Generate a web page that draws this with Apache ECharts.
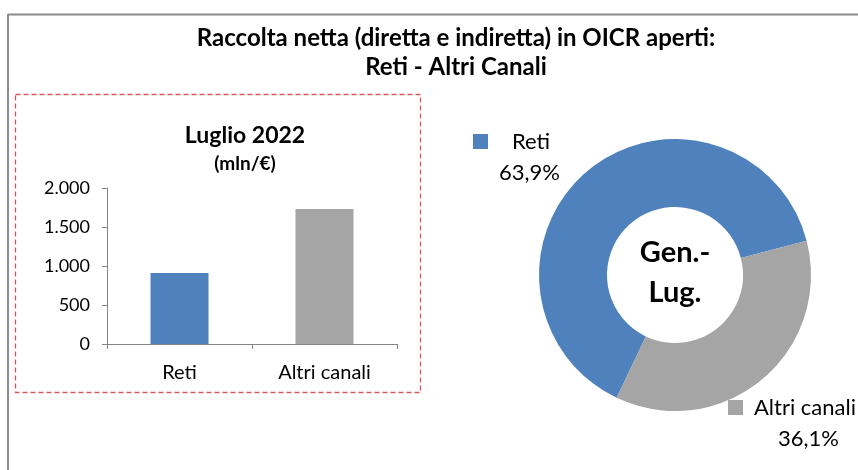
<!DOCTYPE html>
<html>
<head>
<meta charset="utf-8">
<script src="https://cdn.jsdelivr.net/npm/echarts@6/dist/echarts.min.js"></script>
<style>
  html, body { margin: 0; padding: 0; background: #fff; }
  #chart { width: 858px; height: 470px; }
</style>
</head>
<body>
<div id="chart"></div>
<script>
// ── 数据 ──
const barCategories = ['Reti', 'Altri canali'];
const barValues = [910, 1731];          // mln/€, luglio 2022
const pieNames = ['Reti', 'Altri canali'];
const pieValues = [63.9, 36.1];         // % gen.-lug.
const pieLabels = ['63,9%', '36,1%'];
const colors = ['#4F81BD', '#A5A5A5'];

const FONT = 'Lato';
const fmtIt = v => String(v).replace(/\B(?=(\d{3})+(?!\d))/g, '.');

const chart = echarts.init(document.getElementById('chart'));
chart.setOption({
  animation: false,
  textStyle: { fontFamily: FONT },
  title: [
    { text: 'Raccolta netta (diretta e indiretta) in OICR aperti:\nReti - Altri Canali',
      left: 451, top: 19, textAlign: 'center',
      textStyle: { fontFamily: FONT, fontSize: 24, fontWeight: 'bold', color: '#000', lineHeight: 29 } },
    { text: 'Luglio 2022', left: 240, top: 119, textAlign: 'center',
      textStyle: { fontFamily: FONT, fontSize: 23, fontWeight: 'bold', color: '#000' } },
    { text: '(mln/€)', left: 240, top: 149, textAlign: 'center',
      textStyle: { fontFamily: FONT, fontSize: 19, fontWeight: 'bold', color: '#000' } }
  ],
  graphic: [
    // cornice esterna
    { type: 'line', shape: { x1: 8, y1: 14.5, x2: 858, y2: 14.5 }, style: { stroke: '#8c8c8c', lineWidth: 2 } },
    { type: 'line', shape: { x1: 8, y1: 14, x2: 8, y2: 470 }, style: { stroke: '#8c8c8c', lineWidth: 2 } },
    // riquadro tratteggiato
    { type: 'rect', shape: { x: 15.5, y: 94.5, width: 405, height: 298 },
      style: { fill: 'none', stroke: '#d9595b', lineWidth: 1.3, lineDash: [5, 3] } },
    // testo centrale ciambella
    { type: 'text', x: 675, y: 273,
      style: { text: 'Gen.-\nLug.', fontFamily: FONT, fontSize: 29, fontWeight: 'bold', fill: '#000',
        align: 'center', verticalAlign: 'middle', lineHeight: 40 } }
  ],
  grid: { left: 107, right: 461, top: 188, bottom: 126 },
  xAxis: {
    type: 'category', data: barCategories,
    axisLine: { lineStyle: { color: '#868686' } },
    axisTick: { show: true, length: 5, lineStyle: { color: '#868686' } },
    axisLabel: { color: '#000', fontSize: 20, margin: 19, fontFamily: FONT }
  },
  yAxis: {
    type: 'value', min: 0, max: 2000, interval: 500,
    axisLine: { show: true, lineStyle: { color: '#868686' } },
    axisTick: { show: true, length: 5, lineStyle: { color: '#868686' } },
    splitLine: { show: false },
    axisLabel: { color: '#000', fontSize: 18, margin: 17, fontFamily: FONT, formatter: fmtIt }
  },
  series: [
    { type: 'bar', barWidth: 58,
      data: barValues.map((v, i) => ({ value: v, itemStyle: { color: colors[i] } })) },
    { type: 'pie', center: [675, 275], radius: [68, 136], startAngle: 244.6, clockwise: true,
      data: pieValues.map((v, i) => ({ name: pieNames[i], value: v, itemStyle: { color: colors[i] } })),
      labelLine: { show: false },
      label: {
        show: true, position: 'outside', color: '#000', fontFamily: FONT, fontSize: 22, lineHeight: 31,
        align: 'left', overflow: 'none', width: 200,
        formatter: p => '{sq' + p.dataIndex + '|}{g' + p.dataIndex + '|}' + p.name +
          '\n{p' + p.dataIndex + '|}' + pieLabels[p.dataIndex],
        rich: {
          sq0: { width: 15, height: 15, backgroundColor: colors[0] },
          sq1: { width: 15, height: 15, backgroundColor: colors[1] },
          g0: { width: 24 }, g1: { width: 11 },
          p0: { width: 26 }, p1: { width: 50 }
        }
      },
      labelLayout: p => p.dataIndex === 0
        ? { x: 473, y: 157, align: 'left', verticalAlign: 'middle' }
        : { x: 728, y: 423, align: 'left', verticalAlign: 'middle' }
    }
  ]
});
</script>
</body>
</html>
